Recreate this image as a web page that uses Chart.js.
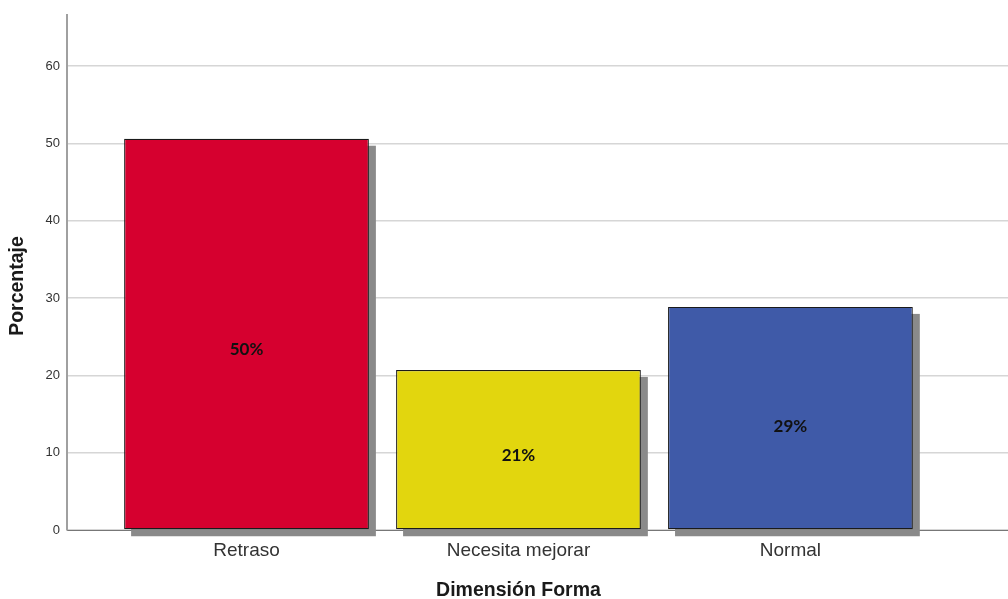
<!DOCTYPE html>
<html>
<head>
<meta charset="utf-8">
<script src="https://cdn.jsdelivr.net/npm/chart.js@4"></script>
<style>
html,body{margin:0;padding:0;background:#fff;}
#wrap{width:1008px;height:599px;position:relative;}
</style>
</head>
<body>
<div id="wrap"><canvas id="c" width="1008" height="599"></canvas></div>
<script>
const categories = ["Retraso", "Necesita mejorar", "Normal"];
const percentages = [50.6, 20.7, 28.85];
const barLabels = ["50%", "21%", "29%"];
const barColors = ["#D6002F", "#E2D60E", "#3F5AA8"];
const yTicks = [0, 10, 20, 30, 40, 50, 60];
const xTitle = "Dimensión Forma";
const yTitle = "Porcentaje";

const points = categories.map((c, i) => ({ x: i, y: percentages[i] }));

const shadowPlugin = {
  id: 'shadow',
  beforeDatasetsDraw(chart) {
    const ctx = chart.ctx;
    const meta = chart.getDatasetMeta(0);
    ctx.save();
    ctx.fillStyle = '#8a8a8a';
    meta.data.forEach(el => {
      const p = el.getProps(['x', 'y', 'base', 'width'], true);
      const left = p.x - p.width / 2;
      ctx.fillRect(left + 7, p.y + 7, p.width, p.base - p.y);
    });
    ctx.restore();
  },
  afterDatasetsDraw(chart) {
    const ctx = chart.ctx;
    const meta = chart.getDatasetMeta(0);
    ctx.save();
    ctx.font = 'bold 17px Lato, "Open Sans", sans-serif';
    ctx.fillStyle = '#111';
    ctx.textAlign = 'center';
    ctx.textBaseline = 'middle';
    meta.data.forEach((el, i) => {
      const p = el.getProps(['x', 'y', 'base'], true);
      ctx.fillText(barLabels[i], p.x, p.base - (p.base - p.y) * 0.46);
    });
    ctx.restore();
  },
  afterDraw(chart) {
    const ctx = chart.ctx;
    const xs = chart.scales.x;
    ctx.save();
    ctx.font = 'bold 19.5px "Liberation Sans", Arial, sans-serif';
    ctx.fillStyle = '#1a1a1a';
    ctx.textAlign = 'center';
    ctx.textBaseline = 'middle';
    ctx.fillText(xTitle, xs.getPixelForValue(1), 591);
    ctx.translate(18, 286);
    ctx.rotate(-Math.PI / 2);
    ctx.fillText(yTitle, 0, 0);
    ctx.restore();
  }
};

new Chart(document.getElementById('c'), {
  type: 'bar',
  data: {
    datasets: [{
      data: points,
      backgroundColor: barColors,
      borderColor: '#1a1a1a',
      borderWidth: 1.2,
      borderSkipped: false,
      barPercentage: 0.9,
      categoryPercentage: 1.0
    }]
  },
  options: {
    responsive: false,
    animation: false,
    layout: { padding: { top: 15, right: 0, left: 0, bottom: 0 } },
    plugins: { legend: { display: false }, tooltip: { enabled: false } },
    scales: {
      x: {
        type: 'linear',
        offset: false,
        min: -0.66,
        max: 2.80,
        afterBuildTicks(scale) { scale.ticks = categories.map((c, i) => ({ value: i })); },
        afterFit(scale) { scale.height = 69; },
        grid: { display: false, drawTicks: false },
        border: { display: true, color: '#777', width: 1 },
        ticks: {
          padding: 9,
          color: '#333',
          font: { family: '"Liberation Sans", Arial, sans-serif', size: 19 },
          callback: (v) => categories[v] !== undefined ? categories[v] : ''
        }
      },
      y: {
        min: 0,
        max: 66.6,
        afterBuildTicks(scale) { scale.ticks = yTicks.map(v => ({ value: v })); },
        afterFit(scale) { scale.width = 67; },
        grid: { color: '#d6d6d6', lineWidth: 1.5, drawTicks: false },
        border: { display: true, color: '#a0a0a0', width: 2 },
        ticks: {
          padding: 7,
          color: '#333',
          font: { family: '"Liberation Sans", Arial, sans-serif', size: 13 }
        }
      }
    }
  },
  plugins: [shadowPlugin]
});
</script>
</body>
</html>
